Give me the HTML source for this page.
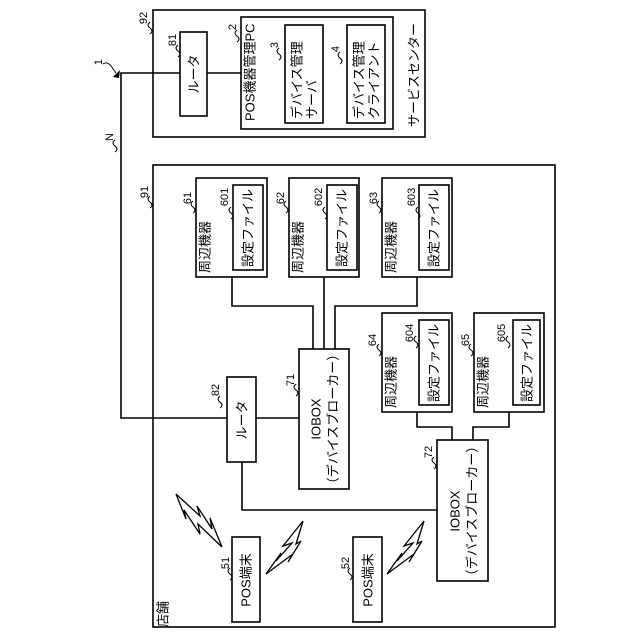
<!DOCTYPE html>
<html><head><meta charset="utf-8"><style>
html,body{margin:0;padding:0;background:#fff;}
svg{display:block;}
text{font-family:"Liberation Sans","Noto Sans CJK JP",sans-serif;fill:#000;}
</style></head><body>
<svg width="640" height="640" viewBox="0 0 640 640" xmlns="http://www.w3.org/2000/svg">
<g fill="none" stroke="#000" stroke-width="1.6">
<rect x="153" y="10" width="272" height="127"/>
<rect x="180" y="32" width="27" height="84"/>
<rect x="241" y="17" width="152" height="112"/>
<rect x="285" y="25" width="38" height="98"/>
<rect x="347" y="25" width="38" height="98"/>
<polyline points="207,73 241,73"/>
<polyline points="180,73 121,73 121,418 227,418"/>
<rect x="153" y="165" width="402" height="462"/>
<rect x="196" y="178" width="71" height="99"/>
<rect x="233" y="185" width="30" height="85"/>
<rect x="289" y="178" width="70" height="99"/>
<rect x="327" y="185" width="30" height="85"/>
<rect x="382" y="178" width="70" height="99"/>
<rect x="419" y="185" width="30" height="85"/>
<polyline points="232,277 232,306 313,306 313,349"/>
<polyline points="324,277 324,349"/>
<polyline points="417,277 417,306 335,306 335,349"/>
<rect x="299" y="349" width="50" height="140"/>
<rect x="227" y="377" width="29" height="85"/>
<polyline points="256,418 299,418"/>
<rect x="382" y="313" width="70" height="99"/>
<rect x="419" y="320" width="30" height="85"/>
<rect x="474" y="313" width="70" height="99"/>
<rect x="513" y="320" width="27" height="85"/>
<polyline points="417,412 417,427 452,427 452,440"/>
<polyline points="509,412 509,427 473,427 473,440"/>
<rect x="437" y="440" width="51" height="141"/>
<polyline points="242,462 242,510 437,510"/>
<rect x="232" y="537" width="28" height="85"/>
<rect x="353" y="537" width="29" height="85"/>
<polyline points="176,494 200,516 197,506 212,529 210,518 222,547 198,524 200,534 184,510 186,519 176,494" stroke-width="1.3"/>
<polyline points="303,521 283,546 292,543 276,561 281,553 266,574 293,554 288,562 301,541 296,544 303,521" stroke-width="1.3"/>
<polyline points="424,521 404,546 413,543 397,561 402,553 387,574 414,554 409,562 422,541 417,544 424,521" stroke-width="1.3"/>
<g stroke-width="1">
<path d="M150,22 q-4,3 0,6 q4,3 0,6"/>
<path d="M178,45 q-4,3 0,6 q4,3 0,6"/>
<path d="M237,30 q-4,3 0,6 q4,3 0,6"/>
<path d="M279,48 q-4,3 0,6 q4,3 0,6"/>
<path d="M340,52 q-4,3 0,6 q4,3 0,6"/>
<path d="M115,140 q-4,3 0,6 q4,3 0,6"/>
<path d="M150,196 q-4,3 0,6 q4,3 0,6"/>
<path d="M193,201 q-4,3 0,6 q4,3 0,6"/>
<path d="M231,207 q-4,3 0,6 q4,3 0,6"/>
<path d="M286,201 q-4,3 0,6 q4,3 0,6"/>
<path d="M325,207 q-4,3 0,6 q4,3 0,6"/>
<path d="M379,201 q-4,3 0,6 q4,3 0,6"/>
<path d="M418,207 q-4,3 0,6 q4,3 0,6"/>
<path d="M220,396 q-4,3 0,6 q4,3 0,6"/>
<path d="M296,384 q-4,3 0,6 q4,3 0,6"/>
<path d="M379,344 q-4,3 0,6 q4,3 0,6"/>
<path d="M416,336 q-4,3 0,6 q4,3 0,6"/>
<path d="M471,344 q-4,3 0,6 q4,3 0,6"/>
<path d="M508,336 q-4,3 0,6 q4,3 0,6"/>
<path d="M434,457 q-4,3 0,6 q4,3 0,6"/>
<path d="M230,568 q-4,3 0,6 q4,3 0,6"/>
<path d="M350,568 q-4,3 0,6 q4,3 0,6"/>
<path d="M103,64 q4,-3 8,2 q3,4 5,7"/>
</g>
</g>
<polygon points="113,77 120,70 119,78" fill="#000"/>
<g font-size="13" text-anchor="middle" dominant-baseline="central">
<text transform="translate(194,74) rotate(-90)">ルータ</text>
<text transform="translate(250,121) rotate(-90)" text-anchor="start">POS機器管理PC</text>
<text transform="translate(297,119) rotate(-90)" text-anchor="start">デバイス管理</text>
<text transform="translate(312,119) rotate(-90)" text-anchor="start">サーバ</text>
<text transform="translate(359,119) rotate(-90)" text-anchor="start">デバイス管理</text>
<text transform="translate(374,119) rotate(-90)" text-anchor="start">クライアント</text>
<text transform="translate(414,75) rotate(-90)">サービスセンター</text>
<text transform="translate(205,273) rotate(-90)" text-anchor="start">周辺機器</text>
<text transform="translate(298,273) rotate(-90)" text-anchor="start">周辺機器</text>
<text transform="translate(391,273) rotate(-90)" text-anchor="start">周辺機器</text>
<text transform="translate(391,408) rotate(-90)" text-anchor="start">周辺機器</text>
<text transform="translate(483,408) rotate(-90)" text-anchor="start">周辺機器</text>
<text transform="translate(248,228) rotate(-90)">設定ファイル</text>
<text transform="translate(342,228) rotate(-90)">設定ファイル</text>
<text transform="translate(434,228) rotate(-90)">設定ファイル</text>
<text transform="translate(434,363) rotate(-90)">設定ファイル</text>
<text transform="translate(527,363) rotate(-90)">設定ファイル</text>
<text transform="translate(316,419) rotate(-90)">IOBOX</text>
<text transform="translate(333,419) rotate(-90)">（デバイスブローカー）</text>
<text transform="translate(455,511) rotate(-90)">IOBOX</text>
<text transform="translate(472,511) rotate(-90)">（デバイスブローカー）</text>
<text transform="translate(242,420) rotate(-90)">ルータ</text>
<text transform="translate(246,580) rotate(-90)">POS端末</text>
<text transform="translate(368,580) rotate(-90)">POS端末</text>
<text transform="translate(163,614) rotate(-90)">店舗</text>
</g>
<g font-size="11" text-anchor="middle" dominant-baseline="central">
<text transform="translate(144,18) rotate(-90)">92</text>
<text transform="translate(173,40) rotate(-90)">81</text>
<text transform="translate(233,27) rotate(-90)">2</text>
<text transform="translate(275,45) rotate(-90)">3</text>
<text transform="translate(336,49) rotate(-90)">4</text>
<text transform="translate(99,62) rotate(-90)">1</text>
<text transform="translate(110,137) rotate(-90)">N</text>
<text transform="translate(145,192) rotate(-90)">91</text>
<text transform="translate(188,198) rotate(-90)">61</text>
<text transform="translate(225,197) rotate(-90)">601</text>
<text transform="translate(281,198) rotate(-90)">62</text>
<text transform="translate(319,197) rotate(-90)">602</text>
<text transform="translate(374,198) rotate(-90)">63</text>
<text transform="translate(412,197) rotate(-90)">603</text>
<text transform="translate(216,390) rotate(-90)">82</text>
<text transform="translate(291,380) rotate(-90)">71</text>
<text transform="translate(373,340) rotate(-90)">64</text>
<text transform="translate(410,333) rotate(-90)">604</text>
<text transform="translate(466,340) rotate(-90)">65</text>
<text transform="translate(502,333) rotate(-90)">605</text>
<text transform="translate(429,452) rotate(-90)">72</text>
<text transform="translate(226,563) rotate(-90)">51</text>
<text transform="translate(346,563) rotate(-90)">52</text>
</g>
</svg>
</body></html>
